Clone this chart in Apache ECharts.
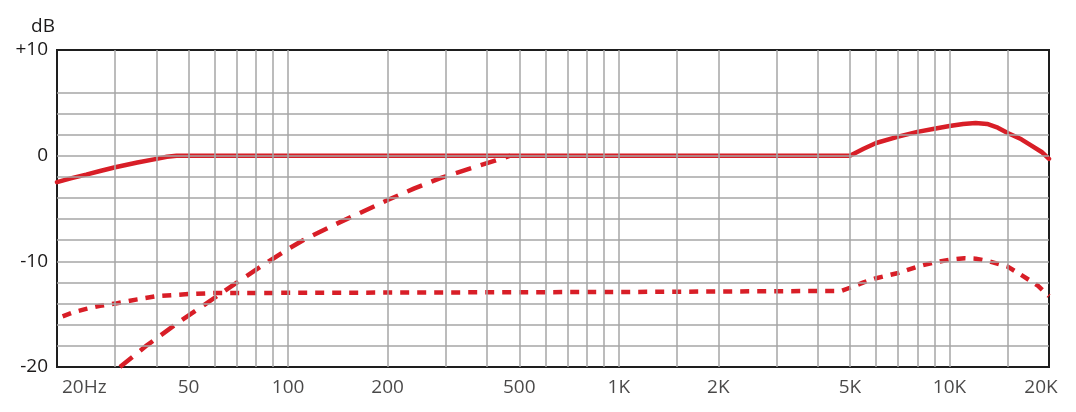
<!DOCTYPE html>
<html>
<head>
<meta charset="utf-8">
<script src="https://cdn.jsdelivr.net/npm/echarts@6/dist/echarts.min.js"></script>
<style>
html,body{margin:0;padding:0;background:#fff;}
#chart{width:1076px;height:412px;}
</style>
</head>
<body>
<div id="chart"></div>
<script>
// ---- data ----
const xTickValues = [20, 50, 100, 200, 500, 1000, 2000, 5000, 10000, 20000];
const xTickLabels = ['20Hz', '50', '100', '200', '500', '1K', '2K', '5K', '10K', '20K'];
const xGridValues = [30, 40, 50, 60, 70, 80, 90, 100, 200, 300, 400, 500, 600, 700, 800, 900,
  1000, 1500, 2000, 3000, 4000, 5000, 6000, 7000, 8000, 9000, 10000, 15000];
const yGridValues = [-18, -16, -14, -12, -10, -8, -6, -4, -2, 0, 2, 4, 6];

// solid: on-axis response
const solidResponse = [
  [20, -2.5], [22, -2.15], [24.5, -1.8], [27, -1.45], [30, -1.1], [35, -0.65],
  [40, -0.3], [43, -0.1], [46, 0], [5000, 0], [5500, 0.65], [6000, 1.2],
  [7000, 1.8], [8000, 2.25], [9000, 2.55], [10000, 2.8], [11000, 3.0], [12000, 3.1],
  [13000, 3.0], [14000, 2.65], [15000, 2.15], [16500, 1.55], [17500, 1.05],
  [19000, 0.35], [20000, -0.3]
];
// long dash: low-cut
const lowCutResponse = [
  [31, -20], [37.4, -17.95], [46, -15.9], [56.5, -14.0], [68.5, -12.2], [79, -10.9],
  [98, -9.0], [111, -8.0], [139, -6.5], [168, -5.3], [200, -4.2], [241, -3.1],
  [290, -2.1], [356, -1.2], [420, -0.5], [470, 0]
];
// short dash: pad
const padResponse = [
  [20.8, -15.2], [22.5, -14.8], [24.5, -14.5], [27, -14.2], [30, -14.0], [35, -13.6],
  [40, -13.3], [50, -13.1], [60, -13.0], [1000, -12.9], [4700, -12.8], [5000, -12.5],
  [5500, -12.0], [6000, -11.6], [7000, -11.1], [8000, -10.5], [9000, -10.1],
  [10000, -9.85], [11100, -9.7], [12000, -9.75], [13200, -10.0], [15000, -10.5],
  [16700, -11.4], [18500, -12.3], [20000, -13.3]
];

// ---- chart ----
const RED = '#d81e27';
const TEXT = '#1c1a1a';
const FONT = 'Open Sans';
const chart = echarts.init(document.getElementById('chart'), null, {renderer: 'canvas'});

const tickLabelData = xTickValues.map((v, i) => {
  const item = {value: [v, -20], label: {formatter: xTickLabels[i]}};
  if (i === 0) { item.label.align = 'left'; item.label.offset = [5, 21]; }
  if (i === xTickValues.length - 1) { item.label.offset = [-8, 21]; }
  return item;
});

const option = {
  animation: false,
  backgroundColor: '#ffffff',
  grid: {
    left: 57, right: 27, top: 50, bottom: 45,
    show: true, borderColor: '#1e1e1e', borderWidth: 2, backgroundColor: 'transparent'
  },
  xAxis: {
    type: 'log', logBase: 10, min: 20, max: 20000,
    axisLine: {show: false}, axisTick: {show: false}, axisLabel: {show: false},
    splitLine: {show: false}, minorSplitLine: {show: false}
  },
  yAxis: {
    type: 'value', min: -20, max: 10, interval: 10,
    name: 'dB', nameLocation: 'end', nameGap: 14,
    nameTextStyle: {color: TEXT, fontFamily: FONT, fontSize: 19, align: 'right', padding: [0, 2, 0, 0]},
    axisLine: {show: false}, axisTick: {show: false}, splitLine: {show: false},
    axisLabel: {
      color: TEXT, fontFamily: FONT, fontSize: 19, margin: 9,
      formatter: v => (v > 0 ? '+' + v : String(v))
    }
  },
  series: [
    {
      name: 'grid', type: 'line', data: [], silent: true, z: 1,
      markLine: {
        silent: true, symbol: ['none', 'none'], animation: false,
        label: {show: false},
        emphasis: {disabled: true},
        lineStyle: {color: '#a6a6a6', width: 1.5, type: 'solid'},
        data: xGridValues.map(v => ({xAxis: v})).concat(yGridValues.map(v => ({yAxis: v})))
      }
    },
    {
      name: 'pad', type: 'line', data: padResponse, showSymbol: false, symbol: 'none',
      smooth: false, z: 3,
      lineStyle: {color: RED, width: 4.5, type: [9, 8], cap: 'butt', join: 'round'}
    },
    {
      name: 'lowcut', type: 'line', data: lowCutResponse, showSymbol: false, symbol: 'none',
      smooth: false, z: 3,
      lineStyle: {color: RED, width: 4.5, type: [16, 10], cap: 'butt', join: 'round'}
    },
    {
      name: 'flat', type: 'line', data: solidResponse, showSymbol: false, symbol: 'none',
      smooth: false, z: 4,
      lineStyle: {color: RED, width: 4.5, type: 'solid', join: 'round', cap: 'round'}
    },
    {
      name: 'ticks', type: 'scatter', data: tickLabelData, symbolSize: 0, silent: true, z: 5,
      clip: false,
      label: {
        show: true, position: 'inside', offset: [0, 21],
        color: TEXT, fontFamily: FONT, fontSize: 19, align: 'center', verticalAlign: 'middle'
      }
    }
  ]
};
chart.setOption(option);
</script>
</body>
</html>
